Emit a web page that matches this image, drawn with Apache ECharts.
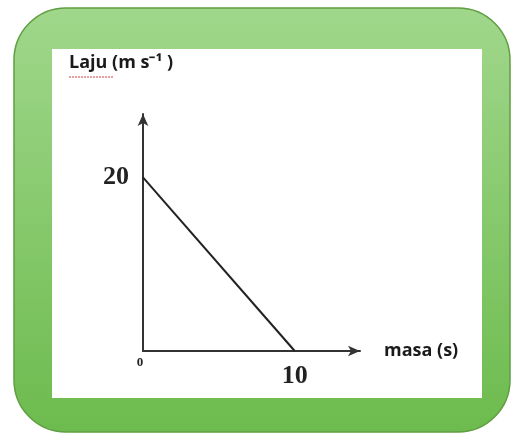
<!DOCTYPE html>
<html>
<head>
<meta charset="utf-8">
<style>
html,body{margin:0;padding:0;background:#ffffff;}
#chart{width:514px;height:435px;}
</style>
<script src="https://cdn.jsdelivr.net/npm/echarts@6/dist/echarts.min.js"></script>
</head>
<body>
<div id="chart"></div>
<script>
// Data: speed (m/s) vs time (s)
var timeValues = [0, 10];
var speedValues = [20, 0];
var xTickLabels = ['0', '10'];
var yTickLabels = ['20'];
var yTitle = 'Laju (m s\u207B\u00B9 )';
var xTitle = 'masa (s)';

var chart = echarts.init(document.getElementById('chart'), null, {renderer: 'canvas'});
var seriesData = timeValues.map(function (t, i) { return [t, speedValues[i]]; });

var option = {
  animation: false,
  backgroundColor: '#ffffff',
  graphic: [
    {
      type: 'rect', z: -10, silent: true,
      shape: {x: 14, y: 8, width: 496, height: 424, r: 52},
      style: {
        fill: new echarts.graphic.LinearGradient(0, 0, 0, 1, [
          {offset: 0, color: '#a0d78b'},
          {offset: 1, color: '#6dbb4e'}
        ]),
        stroke: '#5f9e42', lineWidth: 1.5
      }
    },
    {
      type: 'rect', z: -9, silent: true,
      shape: {x: 52, y: 49, width: 430, height: 349},
      style: {fill: '#ffffff'}
    },
    {
      type: 'line', z: 5, silent: true,
      shape: {x1: 69, y1: 77, x2: 113, y2: 77},
      style: {stroke: '#d04040', lineWidth: 1.2, lineDash: [2, 1]}
    }
  ],
  title: {
    text: yTitle,
    left: 64, top: 49,
    textStyle: {fontFamily: 'Open Sans', fontWeight: 'bold', fontSize: 18, color: '#1a1a1a'}
  },
  grid: {left: 143, top: 114, width: 217, height: 237, containLabel: false},
  xAxis: {
    type: 'value', min: 0, max: 14.3, interval: 10,
    name: xTitle, nameLocation: 'end', nameGap: 24,
    nameTextStyle: {fontFamily: 'Open Sans', fontWeight: 'bold', fontSize: 18, color: '#1a1a1a', verticalAlign: 'middle'},
    axisLine: {show: true, symbol: ['none', 'arrow'], symbolSize: [8, 12], lineStyle: {color: '#333333', width: 2}},
    axisTick: {show: false},
    splitLine: {show: false},
    axisLabel: {
      showMaxLabel: false,
      margin: 5,
      formatter: function (v) {
        if (v === 0) return '{s|' + xTickLabels[0] + '}';
        if (v === 10) return '{b|' + xTickLabels[1] + '}';
        return '';
      },
      rich: {
        s: {fontFamily: 'Liberation Serif', fontWeight: 'bold', fontSize: 13, color: '#222222', padding: [0, 6, 0, 0]},
        b: {fontFamily: 'Liberation Serif', fontWeight: 'bold', fontSize: 26, color: '#222222', padding: [7, 0, 0, 0]}
      }
    }
  },
  yAxis: {
    type: 'value', min: 0, max: 27.3, interval: 20,
    axisLine: {show: true, symbol: ['none', 'arrow'], symbolSize: [8, 12], lineStyle: {color: '#333333', width: 2}},
    axisTick: {show: false},
    splitLine: {show: false},
    axisLabel: {
      showMaxLabel: false,
      margin: 14,
      formatter: function (v) { return v === 20 ? yTickLabels[0] : ''; },
      fontFamily: 'Liberation Serif', fontWeight: 'bold', fontSize: 26, color: '#222222'
    }
  },
  series: [{
    type: 'line',
    data: seriesData,
    symbol: 'none',
    lineStyle: {color: '#222222', width: 2}
  }]
};
chart.setOption(option);
</script>
</body>
</html>
